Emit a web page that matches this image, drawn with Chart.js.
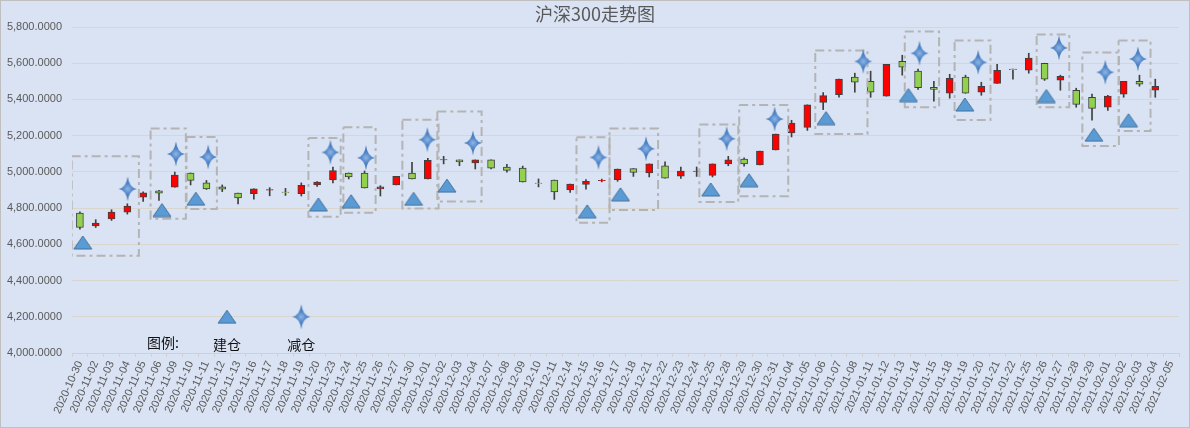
<!DOCTYPE html>
<html lang="zh-CN">
<head>
<meta charset="UTF-8">
<title>沪深300走势图</title>
<style>
  html, body { margin: 0; padding: 0; background: #dae3f3; }
  #wrap { width: 1190px; height: 428px; position: relative; }
</style>
</head>
<body>
<div id="wrap"><canvas id="Grafico"></canvas></div>
<script src="https://cdn.jsdelivr.net/npm/chart.js"></script>
<script>
// dados
const dates = ['2020-10-30','2020-11-02','2020-11-03','2020-11-04','2020-11-05','2020-11-06','2020-11-09','2020-11-10','2020-11-11','2020-11-12',
  '2020-11-13','2020-11-16','2020-11-17','2020-11-18','2020-11-19','2020-11-20','2020-11-23','2020-11-24','2020-11-25','2020-11-26',
  '2020-11-27','2020-11-30','2020-12-01','2020-12-02','2020-12-03','2020-12-04','2020-12-07','2020-12-08','2020-12-09','2020-12-10',
  '2020-12-11','2020-12-14','2020-12-15','2020-12-16','2020-12-17','2020-12-18','2020-12-21','2020-12-22','2020-12-23','2020-12-24',
  '2020-12-25','2020-12-28','2020-12-29','2020-12-30','2020-12-31','2021-01-04','2021-01-05','2021-01-06','2021-01-07','2021-01-08',
  '2021-01-11','2021-01-12','2021-01-13','2021-01-14','2021-01-15','2021-01-18','2021-01-19','2021-01-20','2021-01-21','2021-01-22',
  '2021-01-25','2021-01-26','2021-01-27','2021-01-28','2021-01-29','2021-02-01','2021-02-02','2021-02-03','2021-02-04','2021-02-05'];

const openVals  = [4773,4701,4740,4778,4861,4896,4915,4994,4939,4917, 4883,4880,4899,4888,4880,4928,4955,4994,4994,4906,
  4928,4994,4961,5066,5066,5049,5066,5027,5021,4938, 4955,4900,4931,4952,4957,5018,4994,5033,4977,5002,
  4981,5044,5071,5038,5121,5215,5246,5384,5427,5523, 5500,5418,5611,5556,5467,5434,5523,5440,5489,5567,
  5561,5600,5506,5451,5412,5357,5429,5500,5451,null];
const highVals  = [4780,4736,4791,4824,4890,4898,4999,4994,4953,4928, 4883,4906,4913,4909,4939,4946,5027,4994,5005,4924,
  4975,5053,5075,5086,5066,5066,5066,5042,5032,4961, 4955,4933,4957,4960,5016,5018,5044,5055,5027,5027,
  5044,5086,5078,5115,5209,5285,5370,5438,5512,5545, 5556,5594,5644,5567,5500,5539,5534,5495,5594,5567,
  5655,5600,5534,5462,5429,5423,5500,5534,5512,null];
const lowVals   = [4684,4693,4732,4767,4837,4842,4915,4928,4903,4891, 4823,4850,4868,4870,4867,4920,4939,4961,4911,4867,
  4928,4961,4961,5044,5034,5016,5016,4999,4944,4917, 4848,4887,4904,4945,4948,4975,4972,4966,4964,4975,
  4972,5034,5031,5038,5121,5193,5229,5344,5412,5440, 5412,5418,5534,5456,5390,5407,5434,5423,5489,5512,
  5545,5505,5451,5357,5285,5340,5412,5473,5412,null];
const closeVals = [4693,4718,4778,4811,4885,4883,4983,4953,4906,4904, 4856,4906,4902,4886,4926,4944,5007,4972,4911,4917,
  4975,4961,5064,5068,5055,5066,5021,5008,4944,4936, 4889,4933,4948,4954,5016,4997,5044,4966,5005,5004,
  5044,5067,5044,5115,5209,5270,5370,5421,5512,5495, 5440,5594,5578,5465,5456,5517,5434,5473,5561,5565,
  5628,5512,5528,5373,5351,5418,5500,5484,5473,null];

// 建仓 (triangulos) e 减仓 (estrelas): posicao em indice de categoria e valor
const buyX  = [0.18,5.19,7.33,15.08,17.15,21.10,23.21,32.08,34.18,39.89,42.31,47.18,52.39,55.96,61.11,64.12,66.31];
const buyY  = [4610,4789,4852,4820,4838,4851,4924,4782,4876,4903,4954,5297,5424,5372,5419,5205,5285];
const sellX = [3.02,6.07,8.11,15.84,18.09,21.97,24.85,32.79,35.80,40.90,43.93,49.53,53.09,56.80,61.91,64.84,66.90];
const sellY = [4906,5099,5082,5108,5078,5178,5160,5080,5128,5183,5292,5610,5655,5605,5685,5550,5624];

// caixas tracejadas
const boxX0   = [-0.52,4.47,6.74,14.45,16.66,20.39,22.60,31.40,33.49,39.17,41.69,46.50,52.16,55.31,60.50,63.39,65.68];
const boxX1   = [3.73,6.70,8.66,16.49,18.70,22.68,25.40,33.49,36.56,41.63,44.79,49.80,54.33,57.58,62.56,65.70,67.70];
const boxLow  = [4537,4741,4795,4752,4775,4798,4837,4719,4790,4834,4866,5209,5357,5287,5357,5143,5226];
const boxHigh = [5086,5239,5193,5187,5246,5288,5334,5191,5239,5262,5370,5670,5775,5725,5758,5659,5725];

// legenda dentro do grafico
const legendMarkX = [9.3, 14.0];
const legendMarkY = [4200, 4200];
const legendTexts = ['图例:', '建仓', '减仓'];
const legendTextX = [5.25, 9.3, 14.0];
const legendTextY = [4055, 4045, 4045];

const yMin = 4000, yMax = 5800, yStep = 200;

// icones
function criarTriangulo() {
    const c = document.createElement('canvas');
    c.width = 20; c.height = 15;
    const ctx = c.getContext('2d');
    ctx.beginPath();
    ctx.moveTo(10, 1); ctx.lineTo(19, 14); ctx.lineTo(1, 14); ctx.closePath();
    ctx.fillStyle = '#5b9bd5';
    ctx.fill();
    ctx.strokeStyle = '#41719c';
    ctx.lineWidth = 1;
    ctx.stroke();
    return c;
}

function criarEstrela() {
    const c = document.createElement('canvas');
    c.width = 20; c.height = 26;
    const ctx = c.getContext('2d');
    const cx = 10, cy = 13, k = 1.4;
    ctx.beginPath();
    ctx.moveTo(cx, 0.5);
    ctx.quadraticCurveTo(cx + k, cy - k, 19, cy);
    ctx.quadraticCurveTo(cx + k, cy + k, cx, 25.5);
    ctx.quadraticCurveTo(cx - k, cy + k, 1, cy);
    ctx.quadraticCurveTo(cx - k, cy - k, cx, 0.5);
    ctx.closePath();
    const g = ctx.createRadialGradient(cx, cy, 0, cx, cy, 11);
    g.addColorStop(0, '#8fb6e6');
    g.addColorStop(0.45, '#5287c9');
    g.addColorStop(1, '#3a6fb0');
    ctx.fillStyle = g;
    ctx.fill();
    return c;
}

const triangulo = criarTriangulo();
const estrela = criarEstrela();

const corpo = [], pavio = [], corFundo = [];
for (let i = 0; i < dates.length; i++) {
    if (openVals[i] === null) {
        corpo.push(null); pavio.push(null); corFundo.push('#92d050');
        continue;
    }
    let o = openVals[i], c = closeVals[i];
    corpo.push([o, c]);
    pavio.push([lowVals[i], highVals[i]]);
    corFundo.push(c > o ? '#ff0000' : '#92d050');
}

const datasets = [];

// marcadores por cima de tudo
datasets.push({
    type: 'scatter', xAxisID: 'xl', yAxisID: 'y', order: 0,
    data: sellX.map((x, i) => ({ x: x, y: sellY[i] })),
    pointStyle: estrela, pointRadius: 10
});
datasets.push({
    type: 'scatter', xAxisID: 'xl', yAxisID: 'y', order: 1,
    data: buyX.map((x, i) => ({ x: x, y: buyY[i] })),
    pointStyle: triangulo, pointRadius: 10
});
datasets.push({
    type: 'scatter', xAxisID: 'xl', yAxisID: 'y', order: 2,
    data: [{ x: legendMarkX[0], y: legendMarkY[0] }],
    pointStyle: triangulo, pointRadius: 10
});
datasets.push({
    type: 'scatter', xAxisID: 'xl', yAxisID: 'y', order: 3,
    data: [{ x: legendMarkX[1], y: legendMarkY[1] }],
    pointStyle: estrela, pointRadius: 10
});

for (let b = 0; b < boxX0.length; b++) {
    datasets.push({
        type: 'scatter', xAxisID: 'xl', yAxisID: 'y', order: 4,
        showLine: true, pointRadius: 0,
        borderColor: '#b4b4b4', borderWidth: 2, borderDash: [9, 4, 3, 4],
        data: [
            { x: boxX0[b], y: boxHigh[b] }, { x: boxX1[b], y: boxHigh[b] },
            { x: boxX1[b], y: boxLow[b] }, { x: boxX0[b], y: boxLow[b] },
            { x: boxX0[b], y: boxHigh[b] }
        ]
    });
}

datasets.push({
    type: 'bar', xAxisID: 'x', yAxisID: 'y', order: 10, grouped: false,
    data: corpo, backgroundColor: corFundo,
    borderColor: '#404040', borderWidth: 1, borderSkipped: false,
    barThickness: 7
});
datasets.push({
    type: 'bar', xAxisID: 'x', yAxisID: 'y', order: 11, grouped: false,
    data: pavio, backgroundColor: '#404040', borderWidth: 0,
    barThickness: 1
});

const fundoPlugin = {
    id: 'fundo',
    beforeDraw(chart) {
        const ctx = chart.ctx;
        ctx.save();
        ctx.fillStyle = '#dae3f3';
        ctx.fillRect(0, 0, chart.width, chart.height);
        ctx.strokeStyle = '#bfbfbf';
        ctx.lineWidth = 1;
        ctx.strokeRect(0.5, 0.5, chart.width - 1, chart.height - 1);
        ctx.restore();
    },
    afterDraw(chart) {
        const ctx = chart.ctx;
        const xs = chart.scales.xl, ys = chart.scales.y;
        ctx.save();
        ctx.fillStyle = '#595959';
        ctx.font = '18px "Noto Sans CJK SC", sans-serif';
        ctx.textAlign = 'center';
        ctx.textBaseline = 'middle';
        ctx.fillText('沪深300走势图', chart.width / 2, 14);
        ctx.fillStyle = '#111111';
        ctx.font = '14px "Noto Sans CJK SC", sans-serif';
        for (let i = 0; i < legendTexts.length; i++) {
            ctx.fillText(legendTexts[i], xs.getPixelForValue(legendTextX[i]), ys.getPixelForValue(legendTextY[i]));
        }
        ctx.restore();
    }
};

new Chart(document.getElementById('Grafico'), {
    type: 'bar',
    data: { labels: dates, datasets: datasets },
    options: {
        responsive: true,
        maintainAspectRatio: false,
        animation: false,
        layout: { padding: { top: 27, right: 10, left: 0, bottom: 0 } },
        plugins: {
            legend: { display: false },
            tooltip: { enabled: false },
            title: { display: false }
        },
        scales: {
            x: {
                type: 'category',
                offset: true,
                afterFit(scale) { scale.height = 75; },
                grid: { display: true, drawOnChartArea: false, drawTicks: true, tickLength: 4, color: '#d0d0d0', offset: true },
                border: { color: '#d0d0d0' },
                ticks: {
                    autoSkip: false, maxRotation: 66, minRotation: 66, padding: 2,
                    color: '#595959', font: { family: '"Liberation Sans", Arial, sans-serif', size: 11 }
                }
            },
            xl: {
                type: 'linear', display: false, offset: false, min: -0.5, max: 69.5,
                grid: { offset: false }
            },
            y: {
                type: 'linear', min: yMin, max: yMax,
                afterFit(scale) { scale.width = 72; },
                grid: { color: '#d9d5cf', drawTicks: false },
                border: { display: false },
                ticks: {
                    stepSize: yStep, padding: 10, color: '#595959',
                    font: { family: '"Liberation Sans", Arial, sans-serif', size: 11 },
                    callback: (v) => v.toLocaleString('en-US', { minimumFractionDigits: 4, maximumFractionDigits: 4 })
                }
            }
        }
    },
    plugins: [fundoPlugin]
});
</script>
</body>
</html>
